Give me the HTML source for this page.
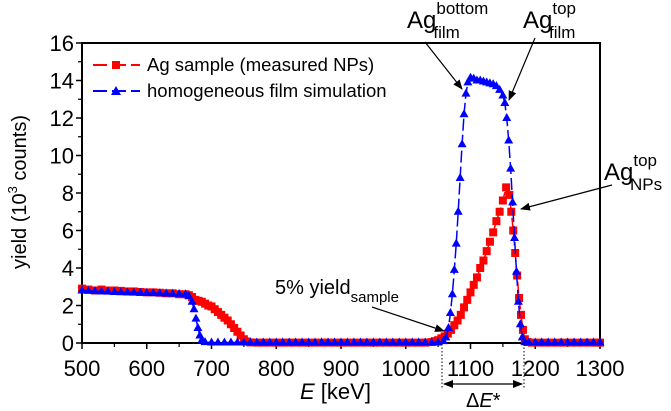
<!DOCTYPE html>
<html><head><meta charset="utf-8"><style>
body{margin:0;background:#fff}
svg{display:block;font-family:"Liberation Sans",Arial,sans-serif}
</style></head><body>
<svg id="chart" width="671" height="411" viewBox="0 0 671 411">
<defs>
<marker id="ah" markerWidth="10" markerHeight="8" refX="9" refY="4" orient="auto" markerUnits="userSpaceOnUse"><path d="M0,0 L10,4 L0,8 z" fill="#000"/></marker>
<marker id="ah2" markerWidth="10" markerHeight="8" refX="1" refY="4" orient="auto" markerUnits="userSpaceOnUse"><path d="M10,0 L0,4 L10,8 z" fill="#000"/></marker>
</defs>
<g id="axes"></g>
<g id="series"></g>
<g id="annot">
  <g>
    <g>
      <line x1="93" y1="65" x2="140" y2="65" stroke="#f00" stroke-width="2" stroke-dasharray="14,5"/>
      <rect x="112" y="61" width="8" height="8" fill="#f00"/>
      <text x="147" y="71" font-size="18.5">Ag sample (measured NPs)</text>
    </g>
    <g>
      <line x1="93" y1="91" x2="140" y2="91" stroke="#00f" stroke-width="2" stroke-dasharray="14,5"/>
      <path d="M116,86 L121,95 L111,95 Z" fill="#00f"/>
      <text x="147" y="97" font-size="18.5">homogeneous film simulation</text>
    </g>
  </g>
  <text x="407" y="28" font-size="24">Ag<tspan font-size="17" dy="-14">bottom</tspan><tspan font-size="17" dx="-55" dy="24">film</tspan></text>
  <line x1="425" y1="42" x2="462" y2="89" stroke="#000" stroke-width="1.2" marker-end="url(#ah)"/>
  <text x="523" y="28" font-size="24">Ag<tspan font-size="17" dy="-14">top</tspan><tspan font-size="17" dx="-27" dy="24">film</tspan></text>
  <line x1="535" y1="38" x2="509" y2="100" stroke="#000" stroke-width="1.2" marker-end="url(#ah)"/>
  <text x="604" y="180" font-size="24">Ag<tspan font-size="17" dy="-14">top</tspan><tspan font-size="17" dx="-27" dy="24">NPs</tspan></text>
  <line x1="612" y1="185" x2="521" y2="209" stroke="#000" stroke-width="1.2" marker-end="url(#ah)"/>
  <text x="275" y="294" font-size="20">5% yield<tspan font-size="15" dy="8">sample</tspan></text>
  <line x1="372" y1="307" x2="444" y2="331" stroke="#000" stroke-width="1.2" marker-end="url(#ah)"/>
  <line x1="442" y1="344" x2="442" y2="388" stroke="#000" stroke-width="1" stroke-dasharray="1.5,2"/>
  <line x1="524" y1="344" x2="524" y2="388" stroke="#000" stroke-width="1" stroke-dasharray="1.5,2"/>
  <line x1="444" y1="384" x2="522" y2="384" stroke="#000" stroke-width="1.2" marker-start="url(#ah2)" marker-end="url(#ah)"/>
  <text x="466" y="407" font-size="20">Δ<tspan font-style="italic">E</tspan>*</text>
</g>
</svg>
<script>
const xTicks=[500,600,700,800,900,1000,1100,1200,1300];
const yTicks=[0,2,4,6,8,10,12,14,16];
const redE=[500,510,520,530,540,550,560,570,580,590,600,610,620,630,640,650,660,665,670,675,680,685,690,695,700,705,710,715,720,725,730,735,740,745,750,755,760,770,780,790,800,810,820,830,840,850,860,870,880,890,900,910,920,930,940,950,960,970,980,990,1000,1010,1020,1030,1040,1045,1050,1055,1060,1065,1070,1075,1080,1085,1090,1095,1100,1105,1110,1115,1120,1125,1130,1135,1140,1145,1150,1155,1160,1163,1166,1169,1172,1175,1178,1181,1184,1188,1195,1205,1215,1225,1235,1245,1255,1265,1275,1285,1295,1300];
const redY=[2.9,2.85,2.8,2.85,2.8,2.8,2.78,2.75,2.75,2.72,2.7,2.7,2.68,2.65,2.65,2.6,2.6,2.55,2.45,2.3,2.25,2.2,2.1,2.0,1.95,1.8,1.65,1.5,1.35,1.2,1.0,0.8,0.6,0.4,0.2,0.08,0.03,0.02,0.02,0.02,0.02,0.02,0.02,0.02,0.02,0.02,0.02,0.02,0.02,0.02,0.02,0.02,0.02,0.02,0.02,0.02,0.02,0.02,0.02,0.02,0.02,0.02,0.02,0.02,0.05,0.1,0.15,0.25,0.35,0.5,0.7,0.95,1.2,1.5,1.9,2.3,2.7,3.1,3.5,4.0,4.4,4.9,5.4,5.9,6.5,7.0,7.6,8.3,7.9,7.0,6.0,4.8,3.6,2.4,1.5,0.7,0.2,0.05,0.02,0.02,0.02,0.02,0.02,0.02,0.02,0.02,0.02,0.02,0.02,0.02];
const blueE=[500,510,520,530,540,550,560,570,580,590,600,610,620,630,640,650,660,665,670,673,676,679,682,685,690,700,710,720,730,740,750,760,770,780,790,800,810,820,830,840,850,860,870,880,890,900,910,920,930,940,950,960,970,980,990,1000,1010,1020,1030,1040,1050,1058,1062,1066,1069,1072,1075,1078,1081,1084,1087,1090,1093,1096,1100,1105,1110,1115,1120,1125,1130,1135,1140,1145,1150,1153,1156,1159,1162,1165,1168,1171,1174,1177,1180,1184,1190,1200,1210,1220,1230,1240,1250,1260,1270,1280,1290,1300];
const blueY=[2.8,2.78,2.77,2.75,2.74,2.72,2.71,2.7,2.69,2.68,2.67,2.66,2.65,2.64,2.63,2.62,2.6,2.5,2.2,1.8,1.3,0.8,0.4,0.15,0.05,0.03,0.03,0.03,0.03,0.03,0.03,0.03,0.03,0.03,0.03,0.03,0.03,0.03,0.03,0.03,0.03,0.03,0.03,0.03,0.03,0.03,0.03,0.03,0.03,0.03,0.03,0.03,0.03,0.03,0.03,0.03,0.03,0.03,0.03,0.03,0.03,0.1,0.3,0.8,1.6,2.6,3.9,5.3,7.0,8.8,10.6,12.2,13.3,13.9,14.15,14.1,14.0,14.0,13.95,13.9,13.85,13.8,13.7,13.5,13.2,12.8,12.0,10.8,9.3,7.5,5.6,3.8,2.2,1.0,0.3,0.05,0.03,0.03,0.03,0.03,0.03,0.03,0.03,0.03,0.03,0.03,0.03,0.03];

const NS='http://www.w3.org/2000/svg';
const L=82,R=600,T=43,B=343;
function sx(e){return L+(e-500)/800*(R-L);}
function sy(v){return B-v/16*(B-T);}
function mk(tag,attrs,parent){const el=document.createElementNS(NS,tag);for(const k in attrs)el.setAttribute(k,attrs[k]);parent.appendChild(el);return el;}
const axes=document.getElementById('axes');
const frame=mk('rect',{x:L,y:T,width:R-L,height:B-T,fill:'none',stroke:'#000','stroke-width':2},axes);


xTicks.forEach((t,i)=>{
  mk('line',{x1:sx(t),y1:B,x2:sx(t),y2:B+6,stroke:'#000','stroke-width':1.5},axes);
  if(i<xTicks.length-1)mk('line',{x1:sx(t+50),y1:B,x2:sx(t+50),y2:B+4,stroke:'#000','stroke-width':1.2},axes);
  const tx=mk('text',{x:sx(t),y:B+33,'font-size':22,'text-anchor':'middle'},axes);
  tx.textContent=t;
  
  
});
yTicks.forEach((t,i)=>{
  mk('line',{x1:L-6,y1:sy(t),x2:L,y2:sy(t),stroke:'#000','stroke-width':1.5},axes);
  if(i<yTicks.length-1)mk('line',{x1:L-4,y1:sy(t+1),x2:L,y2:sy(t+1),stroke:'#000','stroke-width':1.2},axes);
  const tx=mk('text',{x:L-8,y:sy(t)+8,'font-size':22,'text-anchor':'end'},axes);
  tx.textContent=t;
  
  
});
const xt=mk('text',{x:300,y:399,'font-size':22},axes);
xt.innerHTML='<tspan font-style="italic">E</tspan> [keV]';


const yt=mk('text',{x:0,y:0,'font-size':20,'text-anchor':'middle',transform:'translate(26,192) rotate(-90)'},axes);
yt.innerHTML='yield (10<tspan font-size="13" dy="-9">3</tspan><tspan dy="9"> counts)</tspan>';



const ser=document.getElementById('series');
function draw(E,Y,color,shape,name){
  const g=mk('g',{},ser);
  
  
  mk('polyline',{points:E.map((e,i)=>sx(e)+','+sy(Y[i])).join(' '),fill:'none',stroke:color,'stroke-width':1.5,'stroke-dasharray':'12,4'},g);
  E.forEach((e,i)=>{
    const x=sx(e),y=sy(Y[i]);
    let m;
    if(shape==='sq')m=mk('rect',{x:x-4,y:y-4,width:8,height:8,fill:color},g);
    else m=mk('path',{d:`M${x},${y-5} L${x+4.5},${y+3} L${x-4.5},${y+3} Z`,fill:color},g);
    
    
  });
}
draw(redE,redY,'#f00','sq','ag-sample-series');
draw(blueE,blueY,'#00f','tri','film-simulation-series');
</script>
</body></html>
